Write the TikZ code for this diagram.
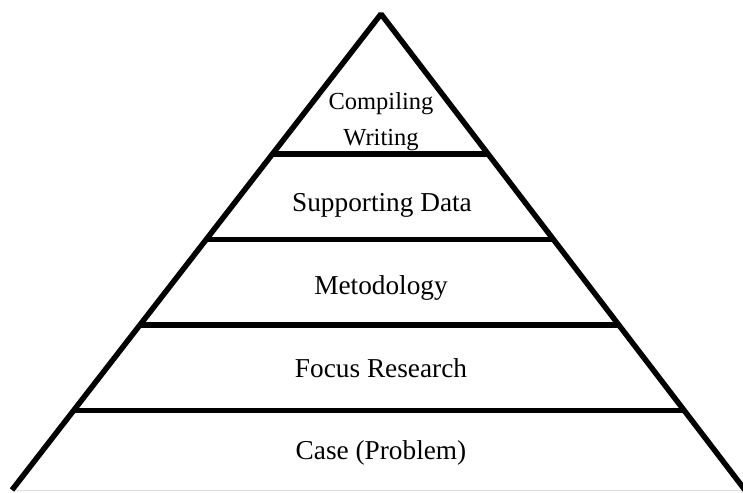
\documentclass[tikz,border=0pt]{standalone}
\usepackage{fontspec}
\setmainfont{Liberation Serif}
\usetikzlibrary{calc}
\begin{document}
\begin{tikzpicture}[x=1pt,y=-1pt,
  rim/.style={line width=5.5pt, line join=bevel},
  tiertext/.style={font=\fontsize{27.3}{32}\selectfont, anchor=base, inner sep=0pt},
  toptext/.style={font=\fontsize{24.5}{29}\selectfont, anchor=base, inner sep=0pt}]
\useasboundingbox (0,0) rectangle (743,492);
\clip (0,0) rectangle (743,492);
% corners of the pyramid
\coordinate (apex) at (381,14);
\coordinate (bl) at (12,490);
\coordinate (br) at (745,490);
% faint base line
\draw[black!13, line width=1pt] (bl) -- (br);
% sides
\draw[rim] (bl) -- (apex) -- (br);
% dividing lines between the tiers
\foreach \t/\n in {0.2941/a, 0.4737/b, 0.6534/c, 0.8330/d} {
  \coordinate (l\n) at ($(apex)!\t!(bl)$);
  \coordinate (r\n) at ($(apex)!\t!(br)$);
  \draw[rim] (l\n) -- (r\n);
}
% tier labels
\node[toptext] (compiling) at (381,110) {Compiling};
\node[toptext] (writing) at (381,145) {Writing};
\node[tiertext] (support) at (382,211) {Supporting Data};
\node[tiertext] (method) at (381,294) {Metodology};
\node[tiertext] (focus) at (381,377) {Focus Research};
\node[tiertext] (case) at (381,459) {Case (Problem)};
\end{tikzpicture}
\end{document}
